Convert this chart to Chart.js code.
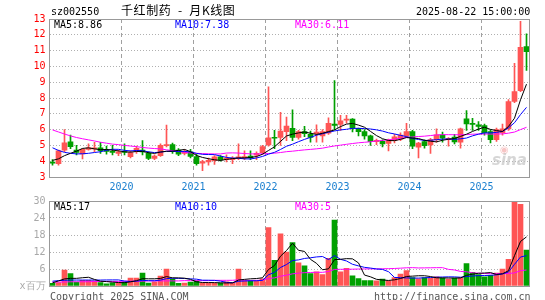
<!DOCTYPE html>
<html>
<head>
<meta charset="utf-8">
<script src="https://cdn.jsdelivr.net/npm/chart.js@4.4.1/dist/chart.umd.min.js"></script>
<style>
  body { margin: 0; background: #fff; }
  #wrap { position: relative; width: 545px; height: 300px; overflow: hidden; background: #fff;
          font-family: 'DejaVu Sans Mono', monospace; font-size: 10px; }
  #wrap canvas { position: absolute; left: 0; }
  .t { position: absolute; white-space: pre; line-height: 12px; }
</style>
</head>
<body>
<div id="wrap">
  <canvas id="priceChart" width="545" height="195" style="top:0"></canvas>
  <canvas id="volChart" width="545" height="110" style="top:190px"></canvas>

  <div class="t" style="left:51px;top:6px;color:#000">sz002550</div>
  <div class="t" style="left:121px;top:3px;font-family:'Noto Sans CJK SC',sans-serif;font-size:12px;line-height:14px;color:#000;letter-spacing:0.6px">千红制药  -  月K线图</div>
  <div class="t" style="left:416px;top:6px;color:#000">2025-08-22 15:00:00</div>

  <div class="t" style="left:54px;top:19px;color:#000">MA5:8.86</div>
  <div class="t" style="left:175px;top:19px;color:#0000ff">MA10:7.38</div>
  <div class="t" style="left:295px;top:19px;color:#ff00ff">MA30:6.11</div>

  <div class="t" style="left:500px;top:144px;font-family:'DejaVu Sans',sans-serif;font-size:10px;font-weight:bold;color:rgba(240,150,150,0.55)">◉</div>
  <div class="t" style="left:492px;top:154px;font-family:'DejaVu Sans',sans-serif;font-size:15px;font-weight:bold;font-style:italic;color:rgba(200,200,200,0.75)">sina</div>

  <div class="t" style="left:54px;top:201px;color:#000">MA5:17</div>
  <div class="t" style="left:175px;top:201px;color:#0000ff">MA10:10</div>
  <div class="t" style="left:295px;top:201px;color:#ff00ff">MA30:5</div>

  <div class="t" style="left:50px;top:291px;color:#555">Copyright 2025 SINA.COM</div>
  <div class="t" style="left:374px;top:291px;color:#555">http://finance.sina.com.cn</div>
</div>

<script>
// monthly candles, Jan 2019 .. Aug 2025
const firstYear = 2019;
const monthCount = 80;
const yearTicks = ['2020', '2021', '2022', '2023', '2024', '2025'];

const opens = [
  3.95, 3.85, 4.70, 5.23, 4.70, 4.46, 4.75, 4.78, 4.85, 4.70, 4.62, 4.50,
  4.60, 4.28, 4.60, 4.71, 4.50, 4.18, 4.35, 4.98, 5.05, 4.70, 4.50, 4.60,
  4.30, 3.87, 3.95, 4.03, 4.28, 4.10, 4.10, 4.18, 4.20, 4.33, 4.38, 4.54,
  5.03, 5.50, 5.50, 5.87, 6.08, 5.50, 5.87, 5.70, 5.75, 5.60, 5.77, 6.35,
  6.33, 6.60, 6.67, 6.08, 5.87, 5.60, 5.23, 5.25, 5.13, 5.31, 5.40, 5.58,
  5.88, 4.89, 5.24, 5.03, 5.37, 5.67, 5.38, 5.52, 5.20, 6.68, 6.40, 6.30,
  6.26, 5.88, 5.37, 5.80, 6.05, 7.78, 8.47, 11.26
];
const highs = [
  4.10, 4.70, 6.00, 5.65, 5.00, 4.80, 5.10, 5.20, 5.20, 4.95, 5.00, 4.70,
  5.10, 4.65, 4.95, 5.30, 4.60, 4.40, 5.10, 6.28, 5.15, 4.80, 4.75, 4.75,
  4.45, 4.05, 4.20, 4.35, 4.35, 4.40, 4.30, 5.10, 4.65, 4.65, 4.60, 5.00,
  8.70, 5.95, 7.10, 6.80, 7.25, 5.95, 6.20, 5.90, 6.30, 6.00, 6.75, 9.10,
  6.90, 6.90, 6.70, 6.10, 6.00, 5.65, 5.40, 5.35, 5.40, 5.70, 5.80, 6.40,
  5.95, 5.20, 5.35, 5.45, 6.05, 5.85, 5.50, 5.70, 6.10, 7.20, 6.72, 6.50,
  6.35, 6.00, 6.10, 6.35, 7.90, 10.20, 12.85, 12.06
];
const lows = [
  3.75, 3.75, 4.60, 4.80, 4.40, 4.15, 4.70, 4.60, 4.50, 4.45, 4.40, 4.35,
  4.40, 4.20, 4.50, 4.40, 4.10, 4.10, 4.30, 4.90, 4.50, 4.35, 4.40, 4.20,
  3.75, 3.40, 3.75, 3.80, 4.00, 3.95, 3.85, 4.10, 4.10, 4.10, 4.10, 4.45,
  4.95, 4.80, 5.00, 5.30, 5.30, 5.40, 5.55, 5.20, 5.20, 5.20, 5.70, 6.00,
  5.95, 6.40, 5.85, 5.60, 5.40, 5.00, 5.05, 4.90, 4.65, 5.15, 5.30, 5.50,
  4.80, 4.20, 4.82, 4.50, 5.20, 5.20, 4.95, 5.10, 4.82, 5.95, 5.95, 5.95,
  5.65, 5.15, 5.25, 5.65, 5.95, 7.70, 8.40, 9.74
];
const closes = [
  3.88, 4.65, 5.17, 4.92, 4.55, 4.75, 4.84, 4.84, 4.66, 4.62, 4.55, 4.60,
  4.55, 4.55, 4.82, 4.58, 4.18, 4.33, 5.00, 5.05, 4.60, 4.45, 4.62, 4.30,
  3.85, 3.97, 4.05, 4.28, 4.08, 4.20, 4.20, 4.28, 4.30, 4.20, 4.50, 4.92,
  5.48, 5.45, 5.90, 6.23, 5.50, 5.87, 5.75, 5.50, 5.85, 5.87, 6.40, 6.27,
  6.55, 6.65, 6.08, 5.87, 5.60, 5.23, 5.32, 5.10, 5.30, 5.55, 5.65, 5.88,
  4.95, 5.14, 4.99, 5.37, 5.67, 5.46, 5.45, 5.22, 6.05, 6.36, 6.33, 6.20,
  5.80, 5.37, 6.00, 6.05, 7.78, 8.41, 11.20, 10.94
];
// volume, millions of shares
const volumes = [
  0.9, 1.2, 5.6, 4.4, 1.4, 2.0, 2.0, 1.8, 1.2, 0.8, 1.1, 1.2,
  1.5, 2.8, 2.8, 4.6, 1.0, 1.5, 3.5, 6.0, 2.4, 0.9, 1.0, 1.4,
  1.8, 1.0, 0.9, 0.9, 1.0, 1.5, 1.2, 6.0, 2.0, 2.0, 2.0, 2.5,
  20.6, 9.1, 18.4, 12.0, 15.3, 8.2, 7.1, 4.4, 5.0, 4.0, 9.8, 23.3,
  5.0, 6.2, 3.6, 2.6, 1.9, 1.9, 1.8, 2.4, 1.8, 3.0, 4.2, 5.4,
  3.0, 2.5, 3.0, 2.8, 3.2, 2.8, 2.4, 2.8, 3.0, 7.9, 4.8, 4.0,
  3.2, 3.8, 4.6, 6.0, 9.4, 29.8, 28.8, 12.7
];

// moving averages for the first months (history before 2019)
const ma5Head = [4.05, 4.15, 4.35, 4.50];
const ma10Head = [4.85, 4.68, 4.56, 4.50, 4.46, 4.47, 4.50, 4.55, 4.60];
const ma30Head = [
  5.98, 5.85, 5.72, 5.60, 5.50, 5.42, 5.35, 5.28, 5.20, 5.14, 5.08, 5.05,
  5.00, 4.96, 4.92, 4.87, 4.83, 4.80, 4.78, 4.72, 4.67, 4.62, 4.56, 4.52,
  4.50, 4.48, 4.47, 4.46, 4.46
];
const volMa5Head = [1.1, 1.8, 2.5, 2.7];
const volMa10Head = [1.7, 1.9, 2.0, 2.1, 2.1, 2.1, 2.1, 2.1, 2.1];
const volMa30Head = [
  1.4, 1.4, 1.4, 1.5, 1.5, 1.5, 1.5, 1.6, 1.6, 1.6, 1.6, 1.6,
  1.7, 1.7, 1.7, 1.7, 1.8, 1.8, 1.8, 1.8, 1.8, 1.8, 1.9, 1.9,
  1.9, 1.9, 1.9, 2.0, 2.0
];

const months = [];
for (let i = 0; i < monthCount; i++) {
  const y = firstYear + Math.floor(i / 12);
  const m = (i % 12) + 1;
  months.push(y + '-' + (m < 10 ? '0' + m : m));
}

function movingAvg(values, n, head) {
  return values.map((v, i) => {
    if (i < n - 1) return head[i];
    let s = 0;
    for (let k = i - n + 1; k <= i; k++) s += values[k];
    return s / n;
  });
}

const RED = '#ff5555';
const GREEN = '#00a000';
const upColors = closes.map((c, i) => c >= opens[i] ? RED : GREEN);

const isYearStart = i => months[i].endsWith('-01') && yearTicks.includes(months[i].slice(0, 4));

// year separators sit between Dec and Jan, i.e. half a month before each January
function yearSeparators(lo, hi) {
  const pts = [];
  for (let i = 1; i < monthCount; i++) {
    if (!isYearStart(i)) continue;
    pts.push({ x: i - 0.5, y: lo }, { x: i - 0.5, y: hi }, { x: i - 0.5, y: null });
  }
  return pts;
}

function separatorDataset(lo, hi) {
  return {
    type: 'line', xAxisID: 'xYear', data: yearSeparators(lo, hi),
    borderColor: '#a0a0a0', borderWidth: 1, borderDash: [4, 3],
    pointRadius: 0, spanGaps: false, fill: false, order: 10
  };
}

// gray frame round the plot area
const framePlugin = {
  id: 'frame',
  afterDraw(chart) {
    const ctx = chart.ctx;
    const area = chart.chartArea;
    const top = Math.floor(area.top) + 0.5;
    const bottom = Math.floor(area.bottom) + 0.5;
    ctx.save();
    ctx.strokeStyle = '#999';
    ctx.lineWidth = 1;
    ctx.strokeRect(area.left, top, area.right - area.left, bottom - top);
    ctx.restore();
  }
};

const monoFont = { family: "'DejaVu Sans Mono', monospace", size: 10 };

function xScales(showLabels) {
  return {
    x: {
      type: 'category',
      offset: true,
      grid: { display: false, drawTicks: false },
      border: { display: false },
      ticks: {
        display: showLabels,
        autoSkip: false,
        maxRotation: 0,
        padding: 4,
        labelOffset: -3,
        color: '#1a7fcf',
        font: monoFont,
        callback: (value, index) => isYearStart(index) ? months[index].slice(0, 4) : ''
      },
      afterFit: s => { s.height = showLabels ? 18 : 0; }
    },
    xYear: { type: 'linear', min: -0.5, max: monthCount - 0.5, display: false, offset: false }
  };
}

function yScale(min, max, step, color, callback) {
  const ticks = { stepSize: step, color: color, font: monoFont, padding: 4 };
  if (callback) ticks.callback = callback;
  return {
    min: min, max: max,
    grid: {
      drawTicks: false,
      color: c => (c.tick && c.tick.value > min && c.tick.value < max) ? '#b0b0b0' : 'rgba(0,0,0,0)'
    },
    border: { display: false, dash: [1, 2] },
    ticks: ticks,
    afterFit: s => { s.width = 49.5; }
  };
}

function maLine(data, color) {
  return { type: 'line', data: data, borderColor: color, borderWidth: 1, pointRadius: 0, tension: 0, fill: false, order: 0 };
}

function baseOptions(padding, scales) {
  return {
    responsive: false,
    animation: false,
    events: [],
    plugins: { legend: { display: false }, tooltip: { enabled: false } },
    layout: { padding: padding },
    scales: scales
  };
}

new Chart(document.getElementById('priceChart'), {
  type: 'bar',
  data: {
    labels: months,
    datasets: [
      separatorDataset(3, 13),
      { data: lows.map((l, i) => [l, highs[i]]), backgroundColor: upColors, barThickness: 1, grouped: false, order: 3 },
      { data: opens.map((o, i) => [o, closes[i]]), backgroundColor: upColors, barThickness: 5, minBarLength: 1, grouped: false, order: 2 },
      maLine(movingAvg(closes, 5, ma5Head), '#000000'),
      maLine(movingAvg(closes, 10, ma10Head), '#0000ff'),
      maLine(movingAvg(closes, 30, ma30Head), '#ff00ff')
    ]
  },
  options: baseOptions({ left: 0, right: 15.5, top: 19, bottom: 0 },
    Object.assign(xScales(true), { y: yScale(3, 13, 1, '#ff0000') })),
  plugins: [framePlugin]
});

new Chart(document.getElementById('volChart'), {
  type: 'bar',
  data: {
    labels: months,
    datasets: [
      separatorDataset(0, 30),
      { data: volumes, backgroundColor: upColors, barThickness: 5, grouped: false, order: 2 },
      maLine(movingAvg(volumes, 5, volMa5Head), '#000000'),
      maLine(movingAvg(volumes, 10, volMa10Head), '#0000ff'),
      maLine(movingAvg(volumes, 30, volMa30Head), '#ff00ff')
    ]
  },
  options: baseOptions({ left: 0, right: 15.5, top: 11, bottom: 14 },
    Object.assign(xScales(false), { y: yScale(0, 30, 6, '#a8a8a8', v => v === 0 ? 'x百万' : v) })),
  plugins: [framePlugin]
});
</script>
</body>
</html>
